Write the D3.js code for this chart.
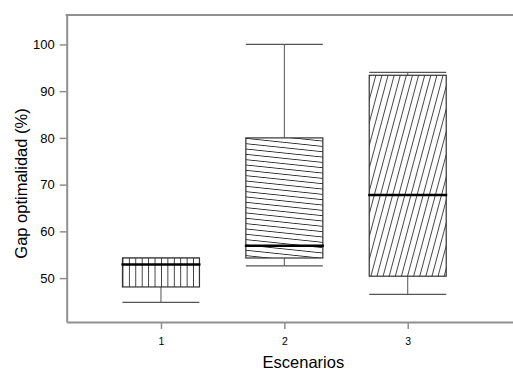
<!DOCTYPE html>
<html>
<head>
<meta charset="utf-8">
<script src="https://cdn.jsdelivr.net/npm/d3@7"></script>
<style>
  body { margin: 0; background: #fff; }
  text { font-family: "Liberation Sans", Arial, sans-serif; fill: #000; }
</style>
</head>
<body>
<div id="root"></div>
<script>
// data
const scenarios = [1, 2, 3];
const whiskerLow = [44.8, 52.6, 46.5];
const q1 = [48.1, 54.3, 50.4];
const medians = [52.9, 56.9, 67.8];
const q3 = [54.3, 80.0, 93.4];
const whiskerHigh = [54.3, 100.0, 94.0];
const yTicks = [50, 60, 70, 80, 90, 100];
const hatches = ["vert", "flat", "steep"];

const width = 513, height = 370;
const plotLeft = 66.7, plotTop = 15, plotBottom = 322;
const boxHalf = 0.312; // in x units

const svg = d3.select("#root").append("svg")
    .attr("width", width)
    .attr("height", height);

const x = d3.scaleLinear().domain([0.236, 3.91]).range([plotLeft, 520]);
const y = d3.scaleLinear().domain([40.6, 106.3]).range([plotBottom, plotTop]);

const boxes = scenarios.map((s, i) => ({
    s, lo: whiskerLow[i], q1: q1[i], med: medians[i], q3: q3[i], hi: whiskerHigh[i], hatch: hatches[i]
}));

// hatch patterns, anchored at each box's left edge
const defs = svg.append("defs");
const pat = {
    vert:  {step: 6.42, angle: 0},
    flat:  {step: 5.3, angle: 6},
    steep: {step: 5.9, angle: 15}
};
boxes.forEach(d => {
    const p = pat[d.hatch];
    const x0 = x(d.s - boxHalf), y0 = y(d.q3);
    const g = defs.append("pattern")
        .attr("id", "h" + d.s)
        .attr("patternUnits", "userSpaceOnUse")
        .attr("x", x0).attr("y", y0)
        .attr("width", p.step).attr("height", p.step)
        .attr("patternTransform", `rotate(${p.angle} ${x0} ${y0})`);
    if (d.hatch === "flat") {
        g.append("line").attr("x1", -1).attr("x2", p.step + 1).attr("y1", 0.4).attr("y2", 0.4)
            .attr("stroke", "#222").attr("stroke-width", 0.9);
    } else {
        g.append("line").attr("y1", -1).attr("y2", p.step + 1).attr("x1", 0.4).attr("x2", 0.4)
            .attr("stroke", "#222").attr("stroke-width", 0.9);
    }
});

// axes / frame
const axisCol = "#8f8f8f";

const yAxis = svg.append("g")
    .attr("transform", `translate(${plotLeft},0)`)
    .call(d3.axisLeft(y).tickValues(yTicks).tickSize(7).tickSizeOuter(0).tickPadding(5));

const xAxis = svg.append("g")
    .attr("transform", `translate(0,${plotBottom})`)
    .call(d3.axisBottom(x).tickValues(scenarios).tickFormat(d3.format("d"))
        .tickSize(7).tickSizeOuter(0).tickPadding(9));

[yAxis, xAxis].forEach(a => {
    a.select(".domain").attr("stroke", axisCol).attr("stroke-width", 2);
    a.selectAll(".tick line").attr("stroke", axisCol).attr("stroke-width", 1.5);
});
yAxis.selectAll(".tick text").attr("font-size", 13).attr("fill", "#111");
xAxis.selectAll(".tick text").attr("font-size", 10.5).attr("fill", "#111");

svg.append("line")
    .attr("x1", plotLeft - 1).attr("x2", x.range()[1])
    .attr("y1", plotTop).attr("y2", plotTop)
    .attr("stroke", axisCol).attr("stroke-width", 2);

// boxplots
const g = svg.append("g").selectAll("g").data(boxes).join("g");

const boxCol = "#333";
g.append("line")
    .attr("x1", d => x(d.s)).attr("x2", d => x(d.s))
    .attr("y1", d => y(d.hi)).attr("y2", d => y(d.lo))
    .attr("stroke", "#555").attr("stroke-width", 1);

g.selectAll(".cap").data(d => [d.lo, d.hi].map(v => ({s: d.s, v}))).join("line")
    .attr("x1", d => x(d.s - boxHalf)).attr("x2", d => x(d.s + boxHalf))
    .attr("y1", d => y(d.v)).attr("y2", d => y(d.v))
    .attr("stroke", "#555").attr("stroke-width", 1.2);

g.append("rect")
    .attr("x", d => x(d.s - boxHalf))
    .attr("width", d => x(d.s + boxHalf) - x(d.s - boxHalf))
    .attr("y", d => y(d.q3))
    .attr("height", d => y(d.q1) - y(d.q3))
    .attr("fill", "#fff");

g.append("rect")
    .attr("x", d => x(d.s - boxHalf))
    .attr("width", d => x(d.s + boxHalf) - x(d.s - boxHalf))
    .attr("y", d => y(d.q3))
    .attr("height", d => y(d.q1) - y(d.q3))
    .attr("fill", d => `url(#h${d.s})`)
    .attr("stroke", boxCol).attr("stroke-width", 1.2);

g.append("line")
    .attr("x1", d => x(d.s - boxHalf) - 1).attr("x2", d => x(d.s + boxHalf) + 1)
    .attr("y1", d => y(d.med)).attr("y2", d => y(d.med))
    .attr("stroke", "#000").attr("stroke-width", 2.5);

// titles
svg.append("text")
    .attr("x", (plotLeft + 540) / 2)
    .attr("y", 368)
    .attr("text-anchor", "middle")
    .attr("font-size", 16.5)
    .text("Escenarios");

svg.append("text")
    .attr("transform", `translate(27,${(plotTop + plotBottom) / 2 + 15}) rotate(-90)`)
    .attr("text-anchor", "middle")
    .attr("font-size", 16.5)
    .text("Gap optimalidad (%)");
</script>
</body>
</html>
